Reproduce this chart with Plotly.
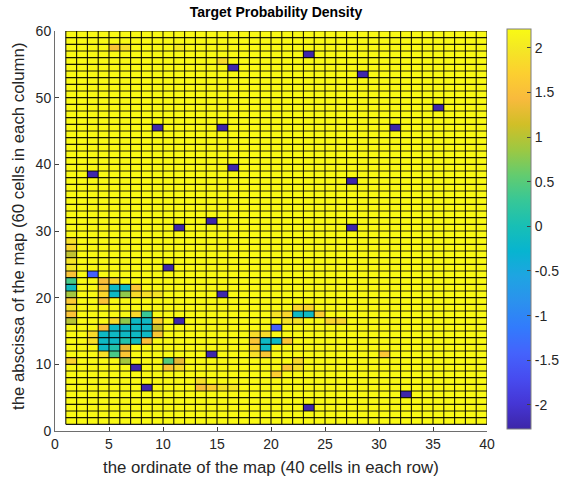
import numpy as np
import plotly.graph_objects as go

# ---------------- data ----------------
n_cols = 40          # grid nodes along x (cells 1..39)
n_rows = 60          # grid nodes along y (cells 1..59)
base_value = 2.2     # most cells (yellow)
z_min, z_max = -2.27, 2.21

# special cells: column index, row index, value
blue_cols = [23, 28, 16, 35, 9, 15, 31, 16, 3, 27, 14, 11, 27, 10, 15, 11, 14, 7, 8, 32, 23]
blue_rows = [56, 53, 54, 48, 45, 45, 45, 39, 38, 37, 31, 30, 30, 24, 20, 16, 11, 9, 6, 5, 3]
blue_value = -2.25

other_cols = [3, 20,
              1, 1, 1, 1, 1, 1, 1, 1, 1, 1, 1, 1, 1, 1,
              4, 5,
              4, 5, 6, 7,
              4, 5, 6, 7, 8, 9,
              4,
              7, 8,
              5, 6, 7, 8, 9,
              4, 5, 6, 7, 8, 9,
              3, 4, 5, 6, 7, 8, 9,
              3, 4, 5, 6, 7, 8,
              4, 5, 6,
              4, 5, 6,
              6, 10, 11,
              10, 11,
              22, 23,
              20, 21, 22, 23, 24,
              21, 22, 25, 26,
              18, 19,
              18, 19, 20, 21,
              18, 19,
              18, 19, 30,
              22,
              21, 22,
              20,
              13,
              13, 14, 15, 16,
              5, 6, 11, 15]
other_rows = [23, 15,
              28, 27, 26, 25, 24, 23, 22, 21, 20, 19, 18, 17, 16, 10,
              22, 22,
              21, 21, 21, 21,
              20, 20, 20, 20, 20, 20,
              19,
              17, 17,
              16, 16, 16, 16, 16,
              15, 15, 15, 15, 15, 15,
              14, 14, 14, 14, 14, 14, 14,
              13, 13, 13, 13, 13, 13,
              12, 12, 12,
              11, 11, 11,
              10, 10, 10,
              9, 9,
              18, 18,
              17, 17, 17, 17, 17,
              16, 16, 16, 16,
              14, 14,
              13, 13, 13, 13,
              12, 12,
              11, 11, 11,
              10,
              9, 9,
              8,
              7,
              6, 6, 6, 6,
              57, 57, 57, 55]
other_vals = [-1.45, -1.45,
              1.9, 1.8, 1.05, 1.95, 2.0, 1.55, 0.4, -0.1, 0.9, 1.65, 1.95, 1.55, 1.0, 1.75,
              1.5, 1.8,
              1.6, -0.15, -0.15, 1.6,
              1.8, -0.15, 0.8, 1.85, 1.9, 1.95,
              1.55,
              1.8, 0.3,
              1.85, 0.8, -0.15, -0.15, 1.75,
              1.5, -0.15, -0.15, -0.15, -0.15, 1.1,
              1.85, -0.15, -0.15, -0.15, -0.15, -0.15, 1.6,
              1.9, -0.15, -0.15, 0.1, -0.1, 1.5,
              -0.15, 0.1, 1.3,
              1.9, 0.4, 1.6,
              0.9, 0.5, 1.3,
              1.6, 1.85,
              1.8, 1.8,
              1.95, 1.8, -0.15, -0.15, 1.7,
              1.95, 1.95, 1.8, 1.8,
              1.85, 1.85,
              1.6, -0.15, -0.15, 1.6,
              1.8, -0.15,
              1.9, 1.6, 1.6,
              1.85,
              1.6, 1.9,
              1.7,
              1.9,
              1.5, 1.7, 1.95, 2.0,
              1.55, 1.9, 2.05, 1.85]

# ---------------- build matrix ----------------
x_nodes = np.arange(1, n_cols + 1)
y_nodes = np.arange(1, n_rows + 1)
Z = np.full((n_rows - 1, n_cols - 1), base_value)
for c, r in zip(blue_cols, blue_rows):
    Z[r - 1, c - 1] = blue_value
for c, r, v in zip(other_cols, other_rows, other_vals):
    Z[r - 1, c - 1] = v

parula = [
    (1, 0.2422, 0.1504, 0.6603), (5, 0.2706, 0.2147, 0.8364), (9, 0.2813, 0.3006, 0.9414),
    (13, 0.2699, 0.3892, 0.9906), (17, 0.1963, 0.4847, 0.9892), (21, 0.1687, 0.5703, 0.9359),
    (25, 0.1248, 0.6459, 0.8883), (29, 0.0297, 0.7082, 0.8163), (33, 0.0964, 0.7500, 0.7120),
    (37, 0.2161, 0.7843, 0.5923), (41, 0.3909, 0.8029, 0.4354), (45, 0.6174, 0.7876, 0.2612),
    (49, 0.8203, 0.7498, 0.1535), (53, 0.9728, 0.7298, 0.2394), (57, 0.9892, 0.8136, 0.1885),
    (61, 0.9597, 0.9135, 0.1423), (64, 0.9769, 0.9839, 0.0805)]
colorscale = [[(i - 1) / 63, f"rgb({int(r*255)},{int(g*255)},{int(b*255)})"] for i, r, g, b in parula]

fig = go.Figure()
fig.add_trace(go.Heatmap(
    x=x_nodes, y=y_nodes, z=Z, zmin=z_min, zmax=z_max, colorscale=colorscale,
    hoverinfo="skip",
    colorbar=dict(
        x=(507 - 55) / 432, xanchor="left", xref="paper",
        y=(431 - 229) / 400, yanchor="middle", len=1.0, lenmode="fraction",
        xpad=0, ypad=0,
        thickness=24, thicknessmode="pixels",
        outlinecolor="#7f7f7f", outlinewidth=1,
        tickvals=[-2, -1.5, -1, -0.5, 0, 0.5, 1, 1.5, 2],
        ticktext=["-2", "-1.5", "-1", "-0.5", "0", "0.5", "1", "1.5", "2"],
        ticks="inside", ticklen=4, tickcolor="#404040",
        tickfont=dict(family="Liberation Sans", size=14, color="#262626"),
    ),
))

# cell edges (black grid of pcolor)
gx, gy = [], []
for xv in x_nodes:
    gx += [xv, xv, None]
    gy += [y_nodes[0], y_nodes[-1], None]
for yv in y_nodes:
    gx += [x_nodes[0], x_nodes[-1], None]
    gy += [yv, yv, None]
fig.add_trace(go.Scatter(x=gx, y=gy, mode="lines", line=dict(color="rgba(0,0,0,0.9)", width=1.1),
                         hoverinfo="skip", showlegend=False))

tickfont = dict(family="Liberation Sans", size=14, color="#262626")
fig.update_layout(
    width=564, height=484,
    margin=dict(l=55, r=77, t=31, b=53, autoexpand=False),
    paper_bgcolor="white", plot_bgcolor="white",
    showlegend=False,
    title=dict(text="<b>Target Probability Density</b>", x=(276 - 55) / 432, xref="paper",
               xanchor="center", y=1 - 12 / 484, yref="container", yanchor="middle",
               font=dict(family="Liberation Sans", size=14, color="#000000")),
    xaxis=dict(range=[0, 40], tickvals=list(range(0, 41, 5)), ticks="inside", ticklen=4,
               tickcolor="#404040", showline=True, linecolor="#6e6e6e", linewidth=1,
               showgrid=False, zeroline=False, tickfont=tickfont, fixedrange=True),
    yaxis=dict(range=[0, 60], tickvals=list(range(0, 61, 10)), ticks="inside", ticklen=4,
               tickcolor="#404040", showline=True, linecolor="#6e6e6e", linewidth=1,
               showgrid=False, zeroline=False, tickfont=tickfont, fixedrange=True),
    annotations=[
        dict(text="the ordinate of the map (40 cells in each row)", xref="paper", yref="paper",
             x=0.5, y=(431 - 467) / 400, xanchor="center", yanchor="middle", showarrow=False,
             font=dict(family="Liberation Sans", size=16.8, color="#262626")),
        dict(text="the abscissa of the map (60 cells in each column)", xref="paper", yref="paper",
             x=(18 - 55) / 432, y=(431 - 226) / 400, xanchor="center", yanchor="middle", textangle=-90,
             showarrow=False, font=dict(family="Liberation Sans", size=16.8, color="#262626")),
    ],
)

fig.write_html("out.html")
